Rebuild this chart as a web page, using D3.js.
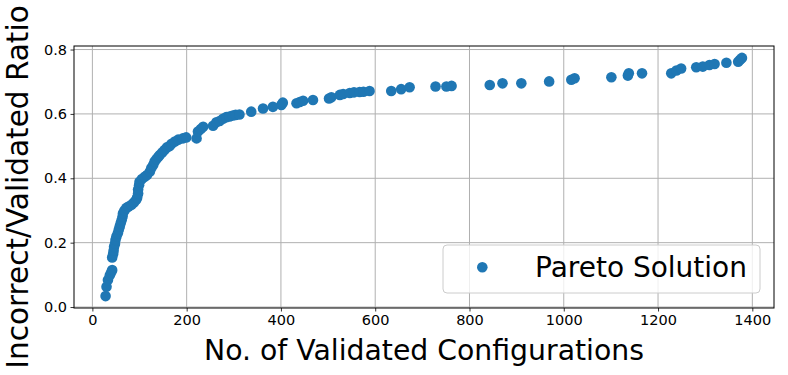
<!DOCTYPE html>
<html>
<head>
<meta charset="utf-8">
<script src="https://cdn.jsdelivr.net/npm/d3@7"></script>
<style>
  html, body { margin: 0; padding: 0; background: #fff; }
  svg { display: block; }
  text { font-family: "DejaVu Sans", sans-serif; }
</style>
</head>
<body>
<svg id="chart" width="788" height="375"></svg>
<script>
// Data
const configs = [28,30,33,37,40,42,42,44,45,46,48,49,51,54,56,58,60,62,64,65,68,72,77,83,88,93,95,97,97,99,100,105,111,116,122,125,129,132,136,140,143,148,153,158,164,168,175,182,192,199,221,224,230,235,256,263,270,277,284,291,298,304,312,337,362,383,401,404,433,440,447,468,502,507,525,532,546,555,567,575,588,634,655,673,728,751,762,843,870,910,969,1016,1023,1101,1136,1138,1166,1228,1239,1249,1281,1295,1309,1320,1345,1370,1374,1378];
const ratios = [0.034,0.063,0.084,0.099,0.108,0.115,0.154,0.165,0.175,0.187,0.197,0.208,0.219,0.229,0.240,0.250,0.260,0.270,0.281,0.291,0.300,0.308,0.312,0.318,0.325,0.333,0.340,0.353,0.365,0.378,0.389,0.398,0.405,0.410,0.421,0.432,0.441,0.452,0.460,0.467,0.472,0.480,0.488,0.496,0.500,0.507,0.514,0.520,0.524,0.527,0.524,0.545,0.553,0.560,0.563,0.574,0.578,0.585,0.590,0.592,0.595,0.597,0.598,0.607,0.617,0.622,0.628,0.635,0.633,0.637,0.641,0.643,0.648,0.652,0.659,0.662,0.665,0.667,0.668,0.669,0.671,0.671,0.677,0.683,0.685,0.685,0.687,0.690,0.695,0.695,0.701,0.706,0.711,0.714,0.719,0.726,0.726,0.726,0.735,0.741,0.745,0.747,0.752,0.755,0.759,0.762,0.768,0.774];
const xTicks = [0,200,400,600,800,1000,1200,1400];
const yTicks = [0.0,0.2,0.4,0.6,0.8];
const xLabel = "No. of Validated Configurations";
const yLabel = "Incorrect/Validated Ratio";
const legendLabel = "Pareto Solution";

const points = configs.map((c, i) => ({x: c, y: ratios[i]}));

const svg = d3.select("#chart");
const pL = 74, pR = 774, pT = 46, pB = 308;
const color = "#1f77b4";

const x = d3.scaleLinear().domain([-39, 1446]).range([pL, pR]);
const y = d3.scaleLinear().domain([-0.003, 0.811]).range([pB, pT]);

// grid
const grid = svg.append("g");
grid.selectAll("line.gx").data(xTicks).enter().append("line")
  .attr("x1", d => x(d)).attr("x2", d => x(d))
  .attr("y1", pT).attr("y2", pB)
  .attr("stroke", "#b0b0b0").attr("stroke-width", 1);
grid.selectAll("line.gy").data(yTicks).enter().append("line")
  .attr("x1", pL).attr("x2", pR)
  .attr("y1", d => y(d)).attr("y2", d => y(d))
  .attr("stroke", "#b0b0b0").attr("stroke-width", 1);

// points
svg.append("g").selectAll("circle").data(points).enter().append("circle")
  .attr("cx", d => x(d.x)).attr("cy", d => y(d.y))
  .attr("r", 5.3).attr("fill", color);

// axes
const xAxis = d3.axisBottom(x).tickValues(xTicks).tickFormat(d3.format("d")).tickSizeOuter(0).tickSize(3.5).tickPadding(3.5);
const yAxis = d3.axisLeft(y).tickValues(yTicks).tickFormat(d3.format(".1f")).tickSizeOuter(0).tickSize(3.5).tickPadding(3.5);

const gx = svg.append("g").attr("transform", `translate(0,${pB})`).call(xAxis);
const gy = svg.append("g").attr("transform", `translate(${pL},0)`).call(yAxis);
[gx, gy].forEach(g => {
  g.select(".domain").remove();
  g.selectAll(".tick line").attr("stroke", "#000").attr("stroke-width", 0.8);
  g.selectAll(".tick text").attr("fill", "#000").style("font-size", "14.5px").style("font-family", "DejaVu Sans");
});

// frame
svg.append("rect").attr("x", pL).attr("y", pT)
  .attr("width", pR - pL).attr("height", pB - pT)
  .attr("fill", "none").attr("stroke", "#000").attr("stroke-width", 1);

// axis labels
svg.append("text").attr("x", (pL + pR) / 2).attr("y", 360)
  .attr("text-anchor", "middle").style("font-size", "28.3px").text(xLabel);
svg.append("text").attr("transform", `translate(28,187) rotate(-90)`)
  .attr("text-anchor", "middle").style("font-size", "29.5px").text(yLabel);

// legend
const lg = svg.append("g");
lg.append("rect").attr("x", 443).attr("y", 245).attr("width", 317).attr("height", 48)
  .attr("rx", 4).attr("fill", "#fff").attr("fill-opacity", 0.8)
  .attr("stroke", "#cccccc").attr("stroke-width", 1);
lg.append("circle").attr("cx", 482.3).attr("cy", 267.3).attr("r", 5.3).attr("fill", color);
lg.append("text").attr("x", 535).attr("y", 277).style("font-size", "28px").text(legendLabel);
</script>
</body>
</html>
